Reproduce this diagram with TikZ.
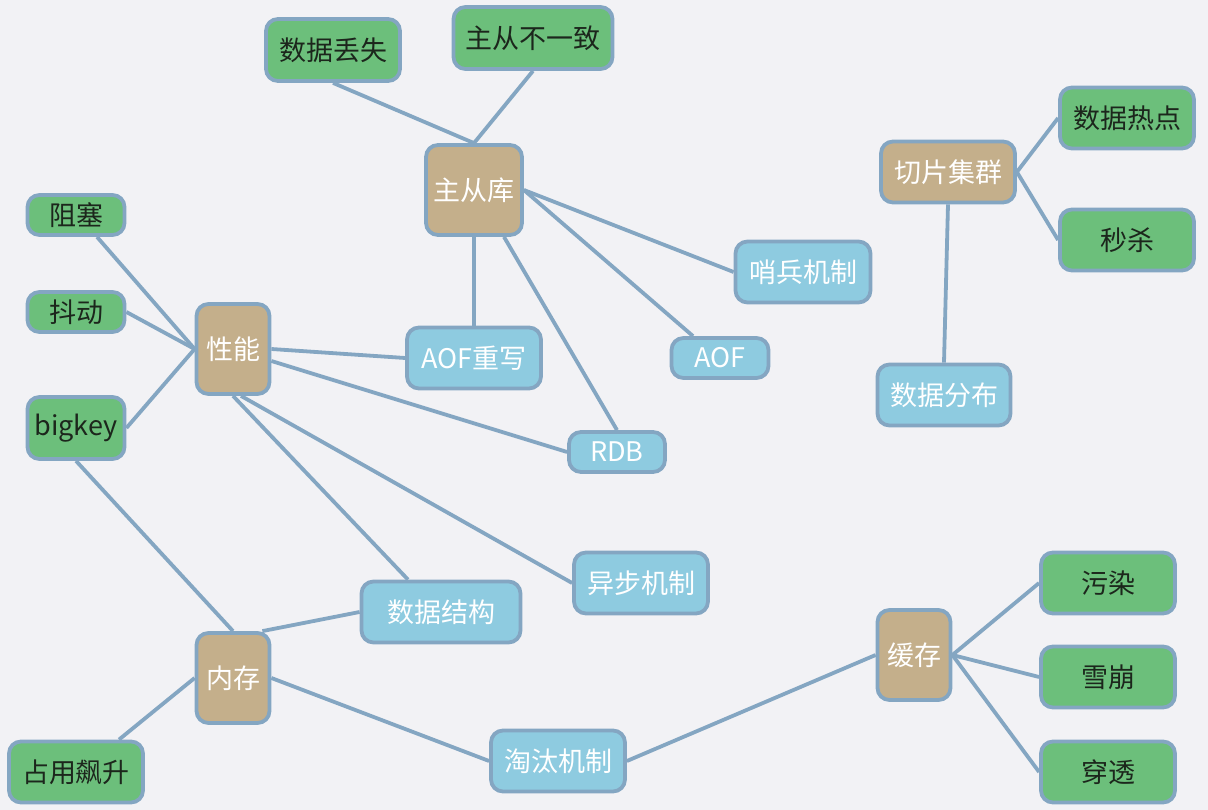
\documentclass[tikz,border=0pt]{standalone}
\usepackage{fontspec}
\setmainfont{Noto Sans CJK SC}
\usetikzlibrary{backgrounds}
\definecolor{bgc}{HTML}{F2F2F5}
\definecolor{edgec}{HTML}{84A6C2}
\definecolor{brownc}{HTML}{C4AF8B}
\definecolor{greenc}{HTML}{6CBF7B}
\definecolor{bluec}{HTML}{8ECBE0}
\definecolor{darktext}{HTML}{1C261C}
\tikzset{
  box/.style={draw=edgec, line width=3.8pt, rounded corners=12pt, inner sep=0pt,
    font=\fontsize{27}{32}\selectfont},
  hub/.style={box, fill=brownc, text=white},
  leaf/.style={box, fill=greenc, text=darktext},
  mid/.style={box, fill=bluec, text=white},
  link/.style={draw=edgec, line width=3.8pt},
}
\begin{document}
\begin{tikzpicture}[x=1pt,y=-1pt]
\useasboundingbox (0,0) rectangle (1208,810);
% hubs
\node[hub, minimum width=96pt, minimum height=90pt] (zck) at (474,190) {主从库};
\node[hub, minimum width=73pt, minimum height=90pt] (xn) at (233,349) {性能};
\node[hub, minimum width=73pt, minimum height=90pt] (nc) at (233,678) {内存};
\node[hub, minimum width=73pt, minimum height=90pt] (hc) at (914,655) {缓存};
\node[hub, minimum width=134pt, minimum height=61pt] (qpjq) at (948,172) {切片集群};
% green leaves
\node[leaf, minimum width=134pt, minimum height=62pt] (sjds) at (333,50) {数据丢失};
\node[leaf, minimum width=159pt, minimum height=62pt] (zcbyz) at (533,38) {主从不一致};
\node[leaf, minimum width=134pt, minimum height=61pt] (sjrd) at (1127,118) {数据热点};
\node[leaf, minimum width=134pt, minimum height=61pt] (ms) at (1127,240) {秒杀};
\node[leaf, minimum width=97pt, minimum height=40pt] (zs) at (76,215) {阻塞};
\node[leaf, minimum width=97pt, minimum height=40pt] (dd) at (76,312) {抖动};
\node[leaf, minimum width=97pt, minimum height=62pt] (bk) at (76,428) {bigkey};
\node[leaf, minimum width=134pt, minimum height=61pt] (zyps) at (76,772) {占用飙升};
\node[leaf, minimum width=134pt, minimum height=61pt] (wr) at (1108,583) {污染};
\node[leaf, minimum width=134pt, minimum height=61pt] (xb) at (1108,677) {雪崩};
\node[leaf, minimum width=134pt, minimum height=61pt] (ct) at (1108,772) {穿透};
% blue middle
\node[mid, minimum width=135pt, minimum height=61pt] (sbjz) at (803,272) {哨兵机制};
\node[mid, minimum width=134pt, minimum height=61pt] (aofcx) at (474,358) {AOF重写};
\node[mid, minimum width=97pt, minimum height=40pt] (aof) at (720,358) {AOF};
\node[mid, minimum width=133pt, minimum height=61pt] (sjfb) at (944,395) {数据分布};
\node[mid, minimum width=96pt, minimum height=40pt] (rdb) at (617,452) {RDB};
\node[mid, minimum width=134pt, minimum height=61pt] (ybjz) at (641,583) {异步机制};
\node[mid, minimum width=159pt, minimum height=61pt] (sjjg) at (441,612) {数据结构};
\node[mid, minimum width=134pt, minimum height=61pt] (ttjz) at (558,761) {淘汰机制};
\begin{scope}[on background layer]
\fill[bgc] (0,0) rectangle (1208,810);
% 主从库
\draw[link] (sjds.south) -- (zck.north);
\draw[link] (zcbyz.south) -- (zck.north);
\draw[link] (zck.east) -- (sbjz.west);
\draw[link] (zck.east) -- ([xshift=-27pt]aof.north);
\draw[link] ([xshift=30pt]zck.south) -- (rdb.north);
\draw[link] (zck.south) -- (aofcx.north);
% 性能
\draw[link] ([xshift=21pt]zs.south) -- (xn.west);
\draw[link] (dd.east) -- (xn.west);
\draw[link] (bk.east) -- (xn.west);
\draw[link] (xn.east) -- (aofcx.west);
\draw[link] ([yshift=-12pt]xn.east) -- (rdb.west);
\draw[link] (xn.south) -- ([xshift=-33pt]sjjg.north);
\draw[link] ([xshift=8pt]xn.south) -- (ybjz.west);
% 内存
\draw[link] (bk.south) -- (nc.north);
\draw[link] ([xshift=-9pt]nc.north east) -- (sjjg.west);
\draw[link] (nc.west) -- ([xshift=43pt]zyps.north);
\draw[link] (nc.east) -- (ttjz.west);
% 缓存
\draw[link] (ttjz.east) -- (hc.west);
\draw[link] (hc.east) -- (wr.west);
\draw[link] (hc.east) -- (xb.west);
\draw[link] (hc.east) -- (ct.west);
% 切片集群
\draw[link] (qpjq.east) -- (sjrd.west);
\draw[link] (qpjq.east) -- (ms.west);
\draw[link] (qpjq.south) -- (sjfb.north);
\end{scope}
\end{tikzpicture}
\end{document}
